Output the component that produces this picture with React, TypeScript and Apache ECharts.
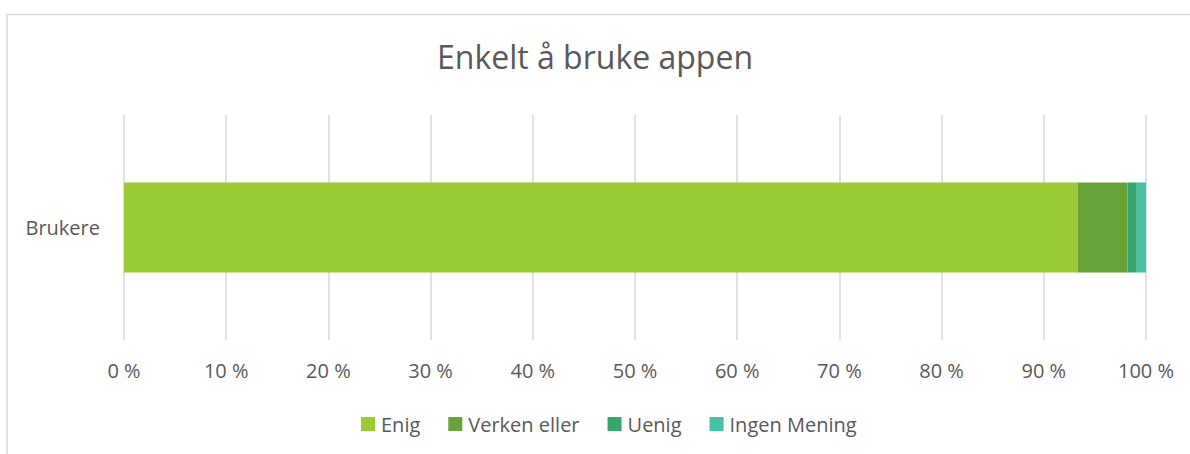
import React, { useEffect, useRef } from "react";
import * as echarts from "echarts";

const title = "Enkelt å bruke appen";
const categories = ["Brukere"];
const seriesNames = ["Enig", "Verken eller", "Uenig", "Ingen Mening"];
const enig = [93.3];
const verken = [4.9];
const uenig = [0.9];
const ingen = [0.9];
const colors = ["#9acb37", "#67a338", "#37a76f", "#46c1a5"];

export default function App() {
  const ref = useRef<HTMLDivElement>(null);
  useEffect(() => {
    if (!ref.current) return;
    const chart = echarts.init(ref.current, undefined, { renderer: "svg" });
    const values = [enig, verken, uenig, ingen];
    const font = "'Open Sans', sans-serif";
    chart.setOption({
      animation: false,
      backgroundColor: "#ffffff",
      textStyle: { fontFamily: font },
      title: {
        text: title,
        left: "center",
        top: 35,
        textStyle: { fontSize: 32, fontWeight: "normal", color: "#595959", fontFamily: font },
      },
      legend: {
        top: 409,
        left: 356,
        itemWidth: 14,
        itemHeight: 14,
        itemGap: 28,
        icon: "rect",
        textStyle: { fontSize: 20, color: "#595959", fontFamily: font, padding: [0, 0, 0, 1] },
        data: seriesNames,
      },
      grid: { left: 124, right: 44, top: 115, bottom: 114, containLabel: false },
      xAxis: {
        type: "value",
        min: 0,
        max: 100,
        interval: 10,
        axisLabel: {
          formatter: (v: number) => `${v} %`,
          fontSize: 20,
          color: "#595959",
          margin: 20,
          fontFamily: font,
        },
        splitLine: { lineStyle: { color: "#d9d9d9", width: 1.5 } },
        axisLine: { show: false },
        axisTick: { show: false },
      },
      yAxis: {
        type: "category",
        data: categories,
        axisLabel: { fontSize: 20, color: "#595959", margin: 24, fontFamily: font },
        axisLine: { show: false },
        axisTick: { show: false },
      },
      graphic: [
        {
          type: "rect",
          shape: { x: 7, y: 14.5, width: 1300, height: 600 },
          style: { fill: "none", stroke: "#d9d9d9", lineWidth: 1.5 },
          silent: true,
          z: -1,
        },
      ],
      series: seriesNames.map((name, i) => ({
        name,
        type: "bar",
        stack: "total",
        barWidth: "40%",
        itemStyle: { color: colors[i] },
        data: values[i],
      })),
    });
    return () => chart.dispose();
  }, []);
  return <div ref={ref} style={{ position: "fixed", left: 0, top: 0, width: 1190, height: 454 }} />;
}
